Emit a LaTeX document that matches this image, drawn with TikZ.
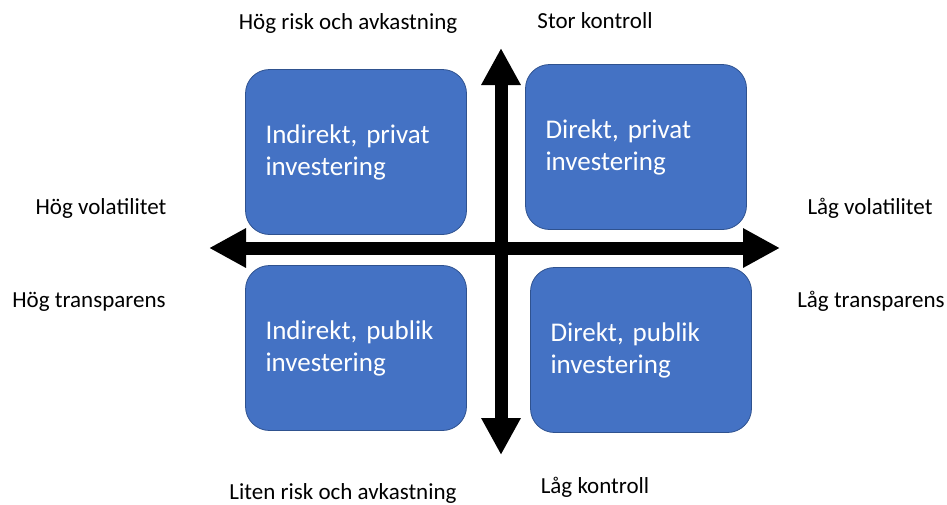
\documentclass[tikz,border=0pt]{standalone}
\usepackage{fontspec}
\setmainfont{Carlito}
\usetikzlibrary{arrows.meta}
\definecolor{boxblue}{HTML}{4472C4}
\definecolor{boxedge}{HTML}{2F528F}

\begin{document}
\begin{tikzpicture}[x=1pt,y=-1pt,
    quad/.style={draw=boxedge, fill=boxblue, line width=0.8pt, rounded corners=24pt,
      minimum width=221pt, minimum height=165pt, text width=181pt, inner xsep=20pt,
      align=left, text=white, font=\fontsize{27}{32}\selectfont},
    lbl/.style={font=\fontsize{23}{28}\selectfont, anchor=base, inner sep=0pt},
    axis/.style={line width=13pt,
      {Triangle[width=37pt,length=37pt]}-{Triangle[width=37pt,length=37pt]}}]
  \useasboundingbox (0,0) rectangle (947,504);
  % the four quadrants
  \node[quad] (ip) at (356,152) {Indirekt, privat\\investering};
  \node[quad] (dp) at (636,147) {Direkt, privat\\investering};
  \node[quad] (iu) at (356,348) {Indirekt, publik\\investering};
  \node[quad] (du) at (641,350) {Direkt, publik\\investering};
  %
  \coordinate (west) at (209,248);
  \coordinate (east) at (780,248);
  \coordinate (north) at (501,48);
  \coordinate (south) at (501,455);
  \draw[axis] (west) -- (east);
  \draw[axis] (north) -- (south);
  %
  \node[lbl] (hr) at (348,29) {Hög risk och avkastning};
  \node[lbl] (sk) at (595,28) {Stor kontroll};
  \node[lbl] (hv) at (101,214) {Hög volatilitet};
  \node[lbl] (lv) at (870,214) {Låg volatilitet};
  \node[lbl] (ht) at (89,307) {Hög transparens};
  \node[lbl] (lt) at (871,307) {Låg transparens};
  \node[lbl] (lr) at (343,499) {Liten risk och avkastning};
  \node[lbl] (lk) at (595,493) {Låg kontroll};
\end{tikzpicture}
\end{document}
